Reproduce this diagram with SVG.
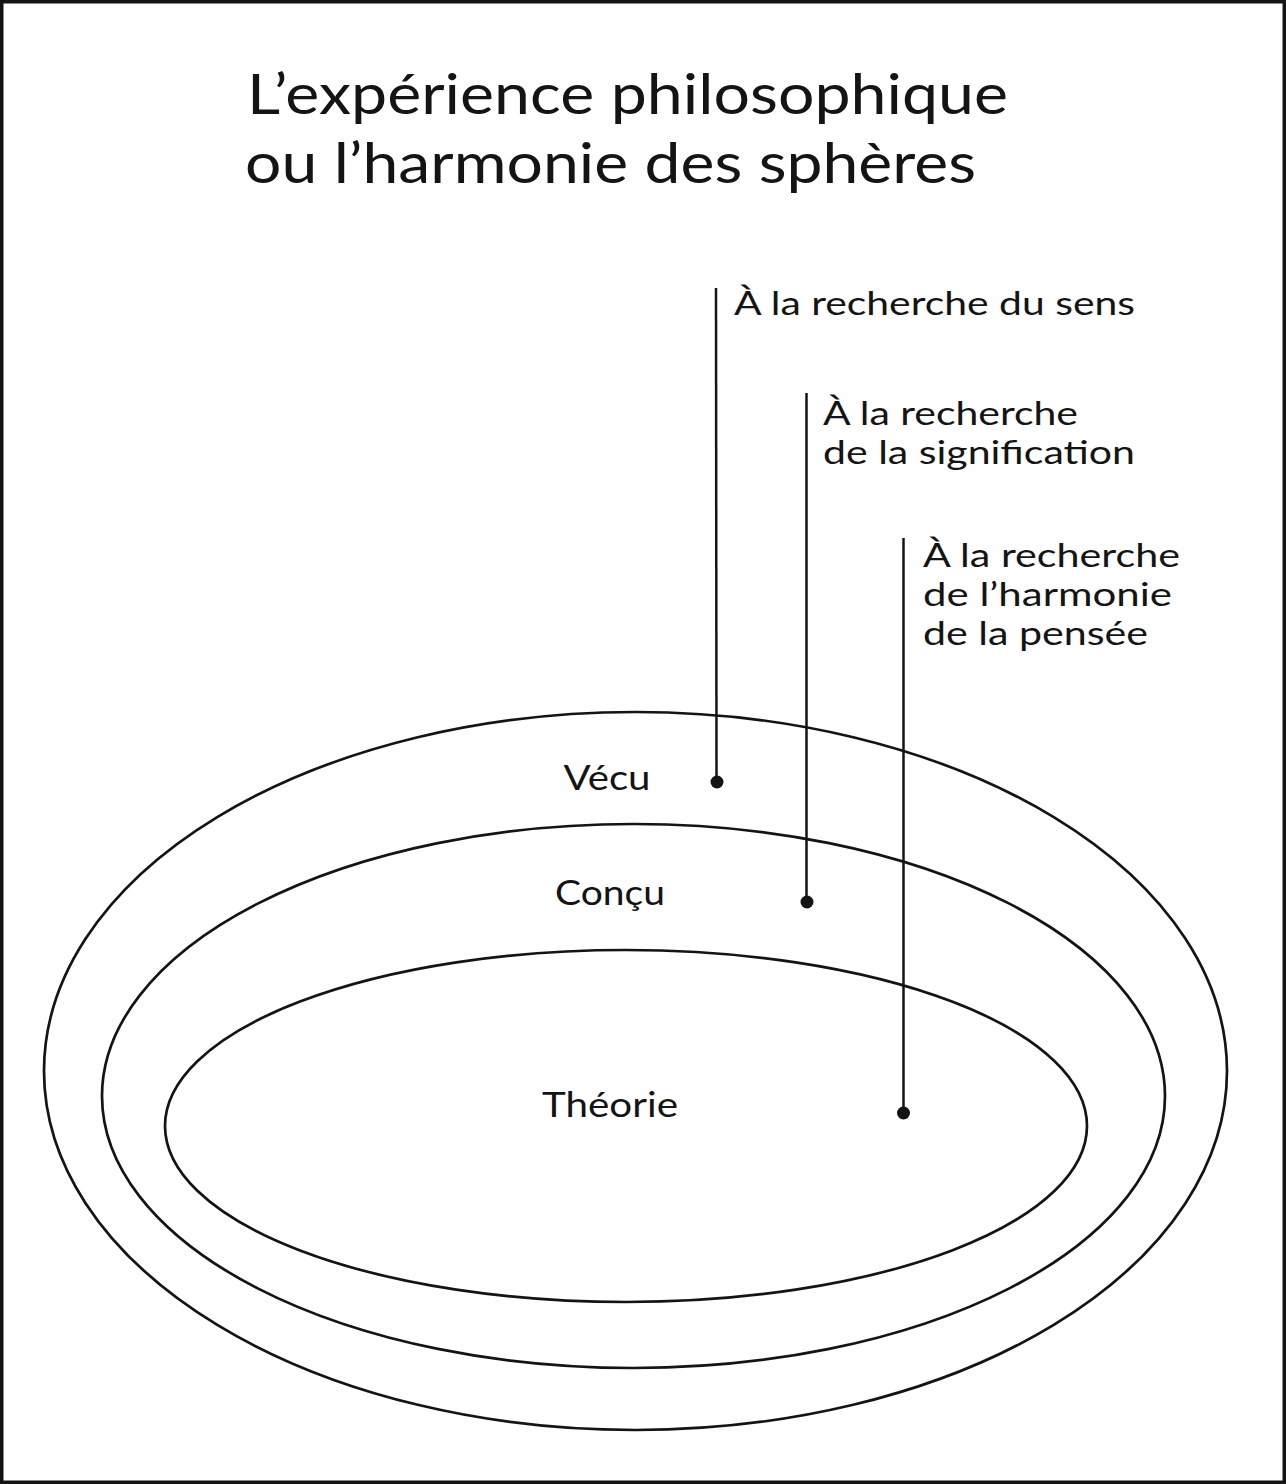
<svg xmlns="http://www.w3.org/2000/svg" width="1286" height="1484" viewBox="0 0 1286 1484">
  <style>
    .t { font-family: Lato, "Open Sans", "Liberation Sans", sans-serif; fill: #141414; }
    .title { font-size: 57px; }
    .lab { font-size: 32px; }
    .node { font-size: 34px; }
    .ring { fill: none; stroke: #141414; stroke-width: 2.7; }
    .conn { stroke: #141414; stroke-width: 2.5; fill: none; }
    .dot { fill: #141414; }
  </style>
  <rect x="0" y="0" width="1286" height="1484" fill="#ffffff"/>
  <rect x="1.75" y="1.75" width="1282.5" height="1480.5" fill="none" stroke="#141414" stroke-width="3.5"/>

  <g id="title">
    <text class="t title" x="247" y="114" textLength="761" lengthAdjust="spacingAndGlyphs">L’expérience philosophique</text>
    <text class="t title" x="245" y="183" textLength="731" lengthAdjust="spacingAndGlyphs">ou l’harmonie des sphères</text>
  </g>

  <g id="vecu">
    <ellipse class="ring" cx="635.5" cy="1071" rx="591.5" ry="359"/>
    <text class="t node" x="607" y="790" text-anchor="middle" textLength="87" lengthAdjust="spacingAndGlyphs">Vécu</text>
  </g>
  <g id="concu">
    <ellipse class="ring" cx="633.5" cy="1096" rx="531.5" ry="272"/>
    <text class="t node" x="610" y="905" text-anchor="middle" textLength="110" lengthAdjust="spacingAndGlyphs">Conçu</text>
  </g>
  <g id="theorie">
    <ellipse class="ring" cx="626" cy="1126" rx="461" ry="176"/>
    <text class="t node" x="610" y="1117" text-anchor="middle" textLength="136" lengthAdjust="spacingAndGlyphs">Théorie</text>
  </g>

  <g id="label-sens">
    <text class="t lab" x="734" y="315" textLength="401" lengthAdjust="spacingAndGlyphs">À la recherche du sens</text>
  </g>
  <g id="label-signification">
    <text class="t lab" x="823" y="425" textLength="255" lengthAdjust="spacingAndGlyphs">À la recherche</text>
    <text class="t lab" x="823" y="464" textLength="312" lengthAdjust="spacingAndGlyphs">de la signification</text>
  </g>
  <g id="label-harmonie">
    <text class="t lab" x="923" y="567" textLength="257" lengthAdjust="spacingAndGlyphs">À la recherche</text>
    <text class="t lab" x="923" y="606" textLength="249" lengthAdjust="spacingAndGlyphs">de l’harmonie</text>
    <text class="t lab" x="923" y="645" textLength="225" lengthAdjust="spacingAndGlyphs">de la pensée</text>
  </g>

  <g id="connectors">
    <line class="conn" x1="716" y1="288" x2="716.5" y2="782"/>
    <circle class="dot" cx="717" cy="782" r="6.5"/>
    <line class="conn" x1="806.5" y1="393" x2="806.5" y2="902"/>
    <circle class="dot" cx="807" cy="902" r="6.5"/>
    <line class="conn" x1="903.5" y1="538" x2="903.5" y2="1113"/>
    <circle class="dot" cx="903.5" cy="1113" r="6.5"/>
  </g>
</svg>
